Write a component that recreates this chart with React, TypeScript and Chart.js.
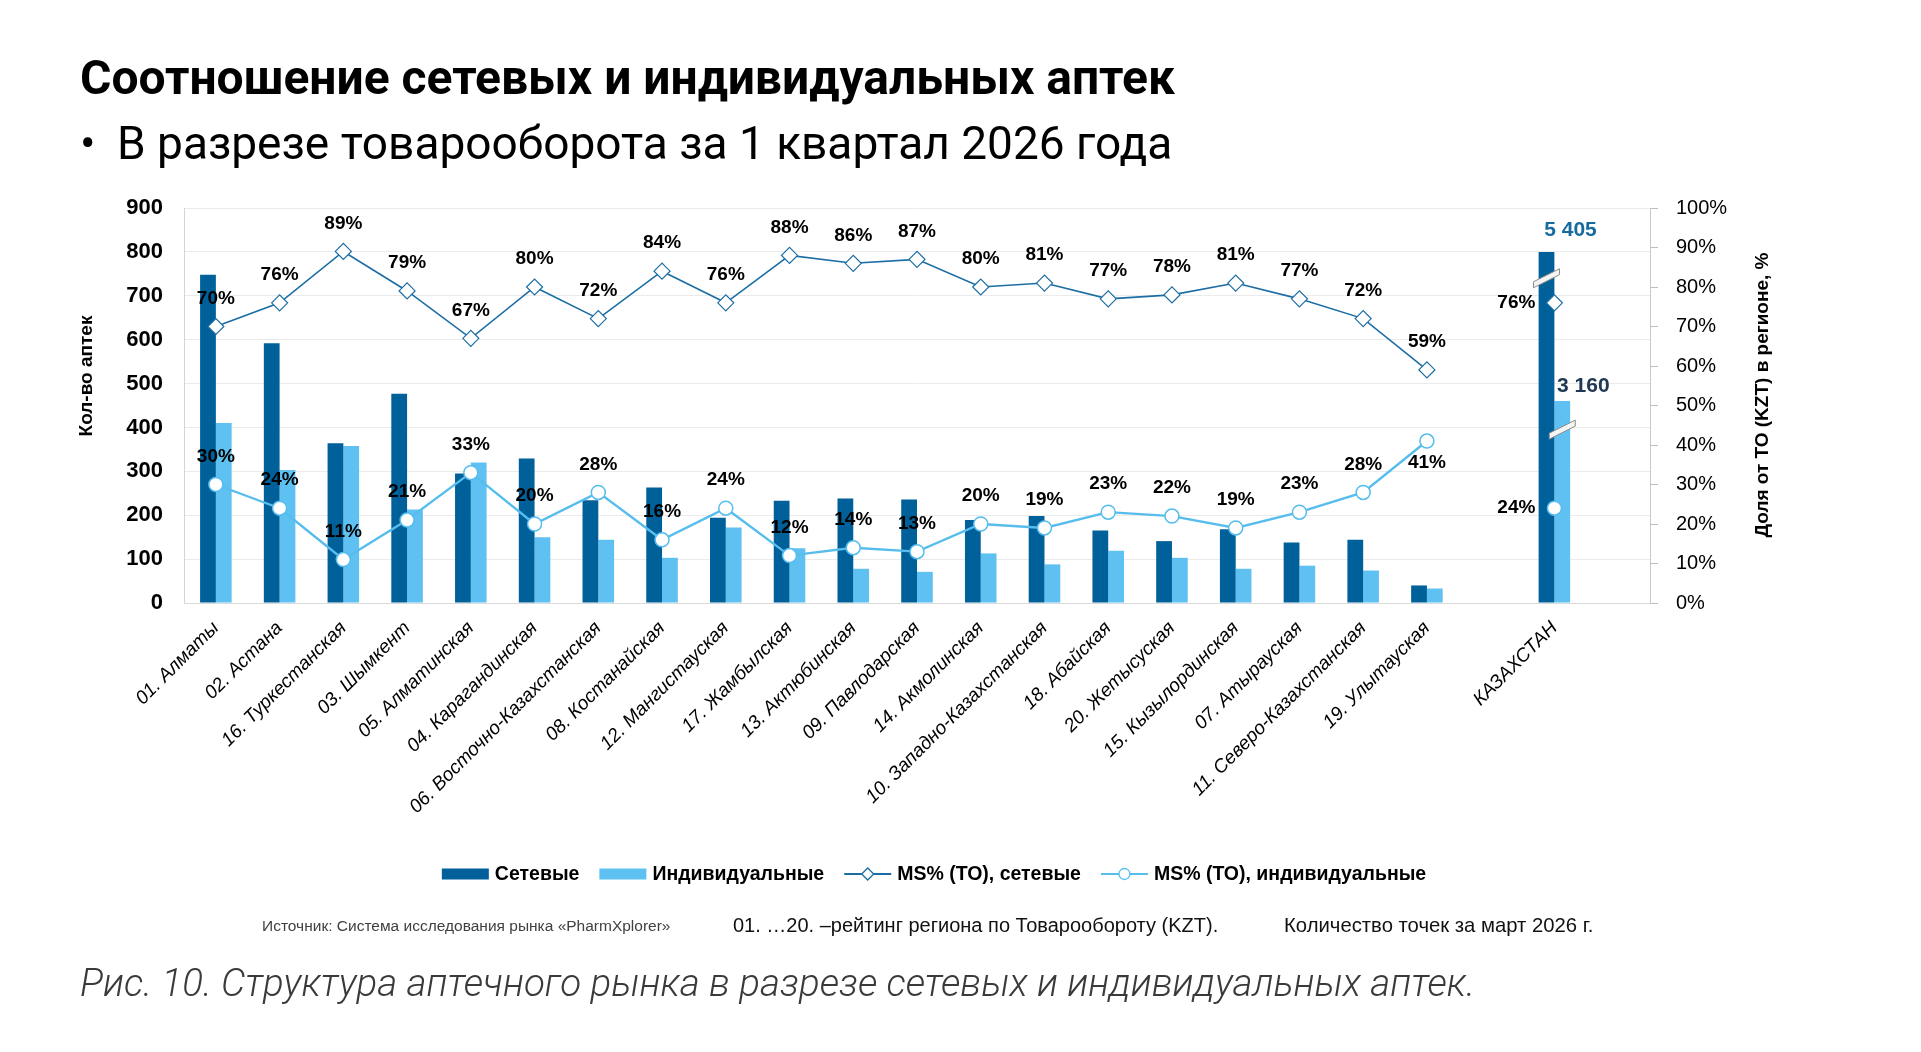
import React, { useEffect, useRef } from "react";
import { Chart, registerables } from "chart.js";

Chart.register(...registerables);

// ---------- data ----------
const regions = [
  "01. Алматы",
  "02. Астана",
  "16. Туркестанская",
  "03. Шымкент",
  "05. Алматинская",
  "04. Карагандинская",
  "06. Восточно-Казахстанская",
  "08. Костанайская",
  "12. Мангистауская",
  "17. Жамбылская",
  "13. Актюбинская",
  "09. Павлодарская",
  "14. Акмолинская",
  "10. Западно-Казахстанская",
  "18. Абайская",
  "20. Жетысуская",
  "15. Кызылординская",
  "07. Атырауская",
  "11. Северо-Казахстанская",
  "19. Улытауская",
];
const chainCounts = [748, 592, 364, 477, 295, 329, 234, 263, 194, 233, 238, 236, 189, 198, 165, 141, 168, 138, 144, 40];
const indivCounts = [410, 303, 358, 213, 320, 150, 144, 103, 172, 125, 78, 71, 113, 88, 119, 103, 78, 85, 74, 33];
const chainShare = [70, 76, 89, 79, 67, 80, 72, 84, 76, 88, 86, 87, 80, 81, 77, 78, 81, 77, 72, 59];
const indivShare = [30, 24, 11, 21, 33, 20, 28, 16, 24, 12, 14, 13, 20, 19, 23, 22, 19, 23, 28, 41];

const totalLabel = "КАЗАХСТАН";
const totalChainCount = 5405;
const totalIndivCount = 3160;
// heights at which the broken (truncated) total bars are drawn on the left axis
const totalChainBarShown = 800;
const totalIndivBarShown = 460;
const totalChainShare = 76;
const totalIndivShare = 24;

const seriesNames = ["Сетевые", "Индивидуальные", "MS% (ТО), сетевые", "MS% (ТО), индивидуальные"];
const leftAxisTitle = "Кол-во аптек";
const rightAxisTitle = "Доля от ТО (KZT) в регионе, %";

// ---------- styles ----------
const FONT = "'Liberation Sans', Arial, Helvetica, sans-serif";
const DARK = "#00609a";
const LIGHT = "#5ec1f2";
const DARK_LINE = "#1b6ea5";
const LIGHT_LINE = "#56bdec";
const W = 1921;
const H = 1052;
const PLOT = { left: 184, right: 1650, top: 208, bottom: 603 };

function fmtThousands(n: number) {
  return String(n).replace(/\B(?=(\d{3})+(?!\d))/g, " ");
}

export default function App() {
  const ref = useRef<HTMLCanvasElement>(null);

  useEffect(() => {
    document.body.style.margin = "0";
    const canvas = ref.current;
    if (!canvas) return;

    const labels = [...regions, "", totalLabel, ""];
    const totalIdx = regions.length + 1;
    const chainBars = [...chainCounts, null, totalChainBarShown, null];
    const indivBars = [...indivCounts, null, totalIndivBarShown, null];
    const chainLine = [...chainShare, null, totalChainShare, null];
    const indivLine = [...indivShare, null, totalIndivShare, null];
    const belowLabels: Record<number, number[]> = { 3: [regions.length - 1] };

    const overlay = {
      id: "overlay",
      afterDatasetsDraw(chart: any) {
        const ctx = chart.ctx;
        const yScale = chart.scales.y;
        // break marks on the truncated total bars
        const breaks = [
          { ds: 0, value: 740 },
          { ds: 1, value: 395 },
        ];
        breaks.forEach((b) => {
          const bar = chart.getDatasetMeta(b.ds).data[totalIdx];
          if (!bar) return;
          const cx = bar.x;
          const cy = yScale.getPixelForValue(b.value);
          const hw = 13, rise = 6.5, th = 3;
          ctx.save();
          ctx.beginPath();
          ctx.moveTo(cx - hw, cy + rise - th);
          ctx.lineTo(cx + hw, cy - rise - th);
          ctx.lineTo(cx + hw, cy - rise + th);
          ctx.lineTo(cx - hw, cy + rise + th);
          ctx.closePath();
          ctx.fillStyle = "#f4f4f4";
          ctx.fill();
          ctx.strokeStyle = "#8c8c8c";
          ctx.lineWidth = 1;
          ctx.stroke();
          ctx.restore();
        });

        // total bar value labels
        ctx.save();
        ctx.textAlign = "center";
        ctx.textBaseline = "middle";
        ctx.font = `bold 21px ${FONT}`;
        const cBar = chart.getDatasetMeta(0).data[totalIdx];
        const iBar = chart.getDatasetMeta(1).data[totalIdx];
        if (cBar) {
          ctx.fillStyle = "#156aa0";
          ctx.fillText(fmtThousands(totalChainCount), cBar.x + 24, cBar.y - 22);
        }
        if (iBar) {
          ctx.fillStyle = "#203a56";
          ctx.fillText(fmtThousands(totalIndivCount), iBar.x + 21, iBar.y - 15);
        }
        ctx.restore();

        // line point labels
        ctx.save();
        ctx.font = `bold 19px ${FONT}`;
        ctx.fillStyle = "#000";
        ctx.textBaseline = "middle";
        [2, 3].forEach((di) => {
          const meta = chart.getDatasetMeta(di);
          const data = chart.data.datasets[di].data;
          meta.data.forEach((pt: any, i: number) => {
            const v = data[i];
            if (v === null || v === undefined) return;
            const txt = `${v}%`;
            if (i === totalIdx) {
              ctx.textAlign = "right";
              ctx.fillText(txt, pt.x - 19, pt.y);
            } else if ((belowLabels[di] || []).includes(i)) {
              ctx.textAlign = "center";
              ctx.fillText(txt, pt.x, pt.y + 22);
            } else {
              ctx.textAlign = "center";
              ctx.fillText(txt, pt.x, pt.y - 28);
            }
          });
        });
        ctx.restore();
      },
      afterDraw(chart: any) {
        const ctx = chart.ctx;
        // axis titles
        ctx.save();
        ctx.font = `bold 19px ${FONT}`;
        ctx.fillStyle = "#000";
        ctx.textAlign = "center";
        ctx.textBaseline = "middle";
        ctx.translate(87, 376);
        ctx.rotate(-Math.PI / 2);
        ctx.fillText(leftAxisTitle, 0, 0);
        ctx.restore();
        ctx.save();
        ctx.font = `bold 19px ${FONT}`;
        ctx.fillStyle = "#000";
        ctx.textAlign = "center";
        ctx.textBaseline = "middle";
        ctx.translate(1763, 395);
        ctx.rotate(-Math.PI / 2);
        ctx.fillText(rightAxisTitle, 0, 0);
        ctx.restore();

        // legend
        ctx.save();
        ctx.font = `bold 19.5px ${FONT}`;
        ctx.textBaseline = "middle";
        ctx.textAlign = "left";
        const items = chart.data.datasets.map((d: any, i: number) => ({
          text: d.label,
          kind: i < 2 ? "box" : "line",
          color: i < 2 ? d.backgroundColor : d.borderColor,
          marker: d.pointStyle,
        }));
        const symW = 47, gapS = 6, gapI = 20;
        const widths = items.map((it: any) => symW + gapS + ctx.measureText(it.text).width);
        const total = widths.reduce((a: number, b: number) => a + b, 0) + gapI * (items.length - 1);
        let x = 934 - total / 2;
        const y = 874;
        items.forEach((it: any, i: number) => {
          if (it.kind === "box") {
            ctx.fillStyle = it.color;
            ctx.fillRect(x, y - 5.5, symW, 11);
          } else {
            ctx.strokeStyle = it.color;
            ctx.lineWidth = 2.2;
            ctx.beginPath();
            ctx.moveTo(x, y);
            ctx.lineTo(x + symW, y);
            ctx.stroke();
            ctx.fillStyle = "#fff";
            ctx.lineWidth = 1.3;
            ctx.beginPath();
            const mx = x + symW / 2;
            if (it.marker === "rectRot") {
              const r = 6;
              ctx.moveTo(mx, y - r);
              ctx.lineTo(mx + r, y);
              ctx.lineTo(mx, y + r);
              ctx.lineTo(mx - r, y);
              ctx.closePath();
            } else {
              ctx.arc(mx, y, 5.5, 0, Math.PI * 2);
            }
            ctx.fill();
            ctx.stroke();
          }
          ctx.fillStyle = "#000";
          ctx.fillText(it.text, x + symW + gapS, y + 1);
          x += widths[i] + gapI;
        });
        ctx.restore();
      },
    };

    const chart = new Chart(canvas, {
      type: "bar",
      data: {
        labels,
        datasets: [
          {
            type: "bar",
            label: seriesNames[0],
            data: chainBars,
            backgroundColor: DARK,
            yAxisID: "y",
            barPercentage: 1,
            categoryPercentage: 0.495,
            order: 1,
          },
          {
            type: "bar",
            label: seriesNames[1],
            data: indivBars,
            backgroundColor: LIGHT,
            yAxisID: "y",
            barPercentage: 1,
            categoryPercentage: 0.495,
            order: 1,
          },
          {
            type: "line",
            label: seriesNames[2],
            data: chainLine,
            yAxisID: "y1",
            borderColor: DARK_LINE,
            borderWidth: 1.6,
            pointStyle: "rectRot",
            pointRadius: 8,
            pointHoverRadius: 8,
            pointBackgroundColor: "#ffffff",
            pointBorderColor: DARK_LINE,
            pointBorderWidth: 1.2,
            spanGaps: false,
            tension: 0,
            order: 0,
          },
          {
            type: "line",
            label: seriesNames[3],
            data: indivLine,
            yAxisID: "y1",
            borderColor: LIGHT_LINE,
            borderWidth: 2.4,
            pointStyle: "circle",
            pointRadius: 7,
            pointHoverRadius: 7,
            pointBackgroundColor: "#ffffff",
            pointBorderColor: LIGHT_LINE,
            pointBorderWidth: 1.5,
            spanGaps: false,
            tension: 0,
            order: 0,
          },
        ] as any,
      },
      options: {
        responsive: false,
        animation: false,
        devicePixelRatio: 1,
        layout: {
          padding: { left: 0, right: 0, top: PLOT.top, bottom: H - PLOT.bottom - 250 },
        },
        plugins: {
          legend: { display: false },
          title: { display: false },
          tooltip: { enabled: false },
        },
        scales: {
          x: {
            type: "category",
            offset: true,
            grid: { display: false, drawTicks: false },
            border: { display: true, color: "#d9d9d9" },
            ticks: {
              autoSkip: false,
              maxRotation: 45,
              minRotation: 45,
              padding: 14,
              color: "#000",
              font: { family: FONT, size: 19, style: "italic" },
            },
            afterFit: (s: any) => {
              s.height = 250;
            },
          },
          y: {
            position: "left",
            min: 0,
            max: 900,
            ticks: {
              stepSize: 100,
              padding: 21,
              color: "#000",
              font: { family: FONT, size: 22, weight: "bold" },
            },
            grid: { color: "#ebebeb", drawTicks: false, lineWidth: 1 },
            border: { display: true, color: "#d4d4d4" },
            afterFit: (s: any) => {
              s.width = PLOT.left;
            },
          },
          y1: {
            position: "right",
            min: 0,
            max: 100,
            ticks: {
              stepSize: 10,
              padding: 18,
              color: "#000",
              font: { family: FONT, size: 20 },
              callback: (v: any) => `${v}%`,
            },
            grid: { drawOnChartArea: false, color: "#bfbfbf", tickLength: 8, drawTicks: true },
            border: { display: true, color: "#c8c8c8" },
            afterFit: (s: any) => {
              s.width = W - PLOT.right;
            },
          },
        },
      } as any,
      plugins: [overlay],
    });

    return () => chart.destroy();
  }, []);

  const roboto = "Roboto, 'Noto Sans', Arial, sans-serif";
  const abs = (left: number, top: number, extra: React.CSSProperties): React.CSSProperties => ({
    position: "absolute",
    left,
    top,
    lineHeight: 1,
    whiteSpace: "nowrap",
    margin: 0,
    ...extra,
  });

  return (
    <div style={{ position: "fixed", left: 0, top: 0, width: W, height: H, overflow: "hidden", background: "#fff" }}>
      <canvas
        ref={ref}
        width={W}
        height={H}
        style={{ position: "absolute", left: 0, top: 0, width: W, height: H }}
      />
      <div style={abs(80, 54, { fontFamily: roboto, fontWeight: 700, fontSize: 48, color: "#000" })}>
        Соотношение сетевых и индивидуальных аптек
      </div>
      <div style={abs(80, 120, { fontFamily: roboto, fontWeight: 400, fontSize: 46, color: "#000" })}>•</div>
      <div style={abs(117, 120, { fontFamily: roboto, fontWeight: 400, fontSize: 46, color: "#000" })}>
        В разрезе товарооборота за 1 квартал 2026 года
      </div>
      <div style={abs(262, 918, { fontFamily: FONT, fontSize: 15.5, color: "#404040" })}>
        Источник: Система исследования рынка «PharmXplorer»
      </div>
      <div style={abs(733, 915, { fontFamily: FONT, fontSize: 20, color: "#111" })}>
        01. …20. –рейтинг региона по Товарообороту (KZT).
      </div>
      <div style={abs(1284, 915, { fontFamily: FONT, fontSize: 20.3, color: "#111" })}>
        Количество точек за март 2026 г.
      </div>
      <div style={abs(80, 964, { fontFamily: roboto, fontWeight: 300, fontStyle: "italic", fontSize: 38.5, color: "#3a3a3a" })}>
        Рис. 10. Структура аптечного рынка в разрезе сетевых и индивидуальных аптек.
      </div>
    </div>
  );
}
